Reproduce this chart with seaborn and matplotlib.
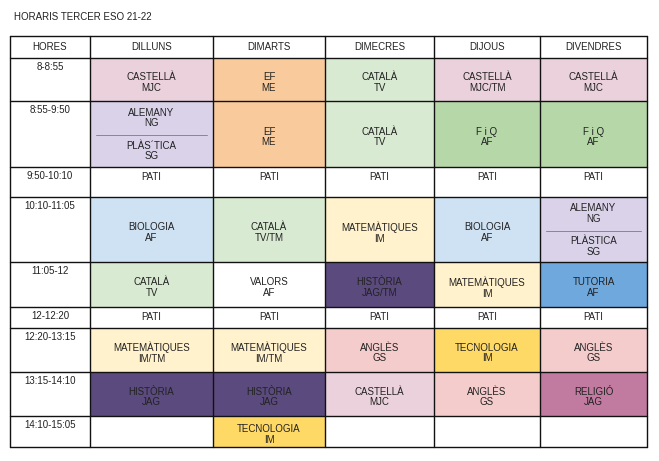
import matplotlib
matplotlib.use("Agg")
import matplotlib.pyplot as plt
from matplotlib.patches import Rectangle
import seaborn as sns

sns.set_theme(style="white", font="Liberation Sans")

title = "HORARIS TERCER ESO 21-22"
days = ["DILLUNS", "DIMARTS", "DIMECRES", "DIJOUS", "DIVENDRES"]
hours = ["8-8:55", "8:55-9:50", "9:50-10:10", "10:10-11:05", "11:05-12",
         "12-12:20", "12:20-13:15", "13:15-14:10", "14:10-15:05"]
# each cell: text ("|" splits into two stacked subjects), color key
subjects = [
    ["CASTELLÀ\nMJC", "EF\nME", "CATALÀ\nTV", "CASTELLÀ\nMJC/TM", "CASTELLÀ\nMJC"],
    ["ALEMANY\nNG|PLÀS´TICA\nSG", "EF\nME", "CATALÀ\nTV", "F i Q\nAF", "F i Q\nAF"],
    ["PATI", "PATI", "PATI", "PATI", "PATI"],
    ["BIOLOGIA\nAF", "CATALÀ\nTV/TM", "MATEMÀTIQUES\nIM", "BIOLOGIA\nAF", "ALEMANY\nNG|PLÀSTICA\nSG"],
    ["CATALÀ\nTV", "VALORS\nAF", "HISTÒRIA\nJAG/TM", "MATEMÀTIQUES\nIM", "TUTORIA\nAF"],
    ["PATI", "PATI", "PATI", "PATI", "PATI"],
    ["MATEMÀTIQUES\nIM/TM", "MATEMÀTIQUES\nIM/TM", "ANGLÈS\nGS", "TECNOLOGIA\nIM", "ANGLÈS\nGS"],
    ["HISTÒRIA\nJAG", "HISTÒRIA\nJAG", "CASTELLÀ\nMJC", "ANGLÈS\nGS", "RELIGIÓ\nJAG"],
    ["", "TECNOLOGIA\nIM", "", "", ""],
]
colors = [
    ["#ead1dc", "#f9cb9c", "#d9ead3", "#ead1dc", "#ead1dc"],
    ["#d9d2e9", "#f9cb9c", "#d9ead3", "#b6d7a8", "#b6d7a8"],
    ["#ffffff"] * 5,
    ["#cfe2f3", "#d9ead3", "#fff2cc", "#cfe2f3", "#d9d2e9"],
    ["#d9ead3", "#ffffff", "#5b4a7d", "#fff2cc", "#6fa8dc"],
    ["#ffffff"] * 5,
    ["#fff2cc", "#fff2cc", "#f4cccc", "#ffd966", "#f4cccc"],
    ["#5b4a7d", "#5b4a7d", "#ead1dc", "#f4cccc", "#c27ba0"],
    ["#ffffff", "#ffd966", "#ffffff", "#ffffff", "#ffffff"],
]

xb = [10, 90, 213, 325, 434, 540, 647]
yb = [36, 58, 101, 167, 197, 262, 307, 328, 372, 416, 447]

fig = plt.figure(figsize=(6.59, 4.61), dpi=100)
ax = fig.add_axes([0, 0, 1, 1])
ax.set_xlim(0, 659)
ax.set_ylim(461, 0)
ax.axis("off")

fs = 7
ax.text(14, 17, title, fontsize=fs, va="center", ha="left", color="#222")

# header
ax.text((xb[0] + xb[1]) / 2, (yb[0] + yb[1]) / 2, "HORES", fontsize=fs, ha="center", va="center", color="#222")
for j, d in enumerate(days):
    ax.text((xb[j + 1] + xb[j + 2]) / 2, (yb[0] + yb[1]) / 2, d, fontsize=fs, ha="center", va="center", color="#222")

for i, h in enumerate(hours):
    y0, y1 = yb[i + 1], yb[i + 2]
    ax.text((xb[0] + xb[1]) / 2, y0 + 4, h, fontsize=fs, ha="center", va="top", color="#222")
    for j in range(5):
        x0, x1 = xb[j + 1], xb[j + 2]
        ax.add_patch(Rectangle((x0, y0), x1 - x0, y1 - y0, facecolor=colors[i][j], edgecolor="none"))
        txt = subjects[i][j]
        cx = (x0 + x1) / 2
        if "|" in txt:
            a, b = txt.split("|")
            ym = (y0 + y1) / 2 + 1
            ax.plot([x0 + 6, x1 - 6], [ym, ym], color="#888", lw=0.7)
            ax.text(cx, (y0 + ym) / 2, a, fontsize=fs, ha="center", va="center", color="#222", linespacing=1.1)
            ax.text(cx, (ym + y1) / 2, b, fontsize=fs, ha="center", va="center", color="#222", linespacing=1.1)
        elif txt == "PATI":
            ax.text(cx, y0 + 10, txt, fontsize=fs, ha="center", va="center", color="#222")
        elif txt:
            ax.text(cx, (y0 + y1) / 2 + 3, txt, fontsize=fs, ha="center", va="center", color="#222", linespacing=1.1)

for y in yb:
    ax.plot([xb[0], xb[-1]], [y, y], color="#111", lw=1)
for x in xb:
    ax.plot([x, x], [yb[0], yb[-1]], color="#111", lw=1)

fig.savefig("out.png", dpi=100)
